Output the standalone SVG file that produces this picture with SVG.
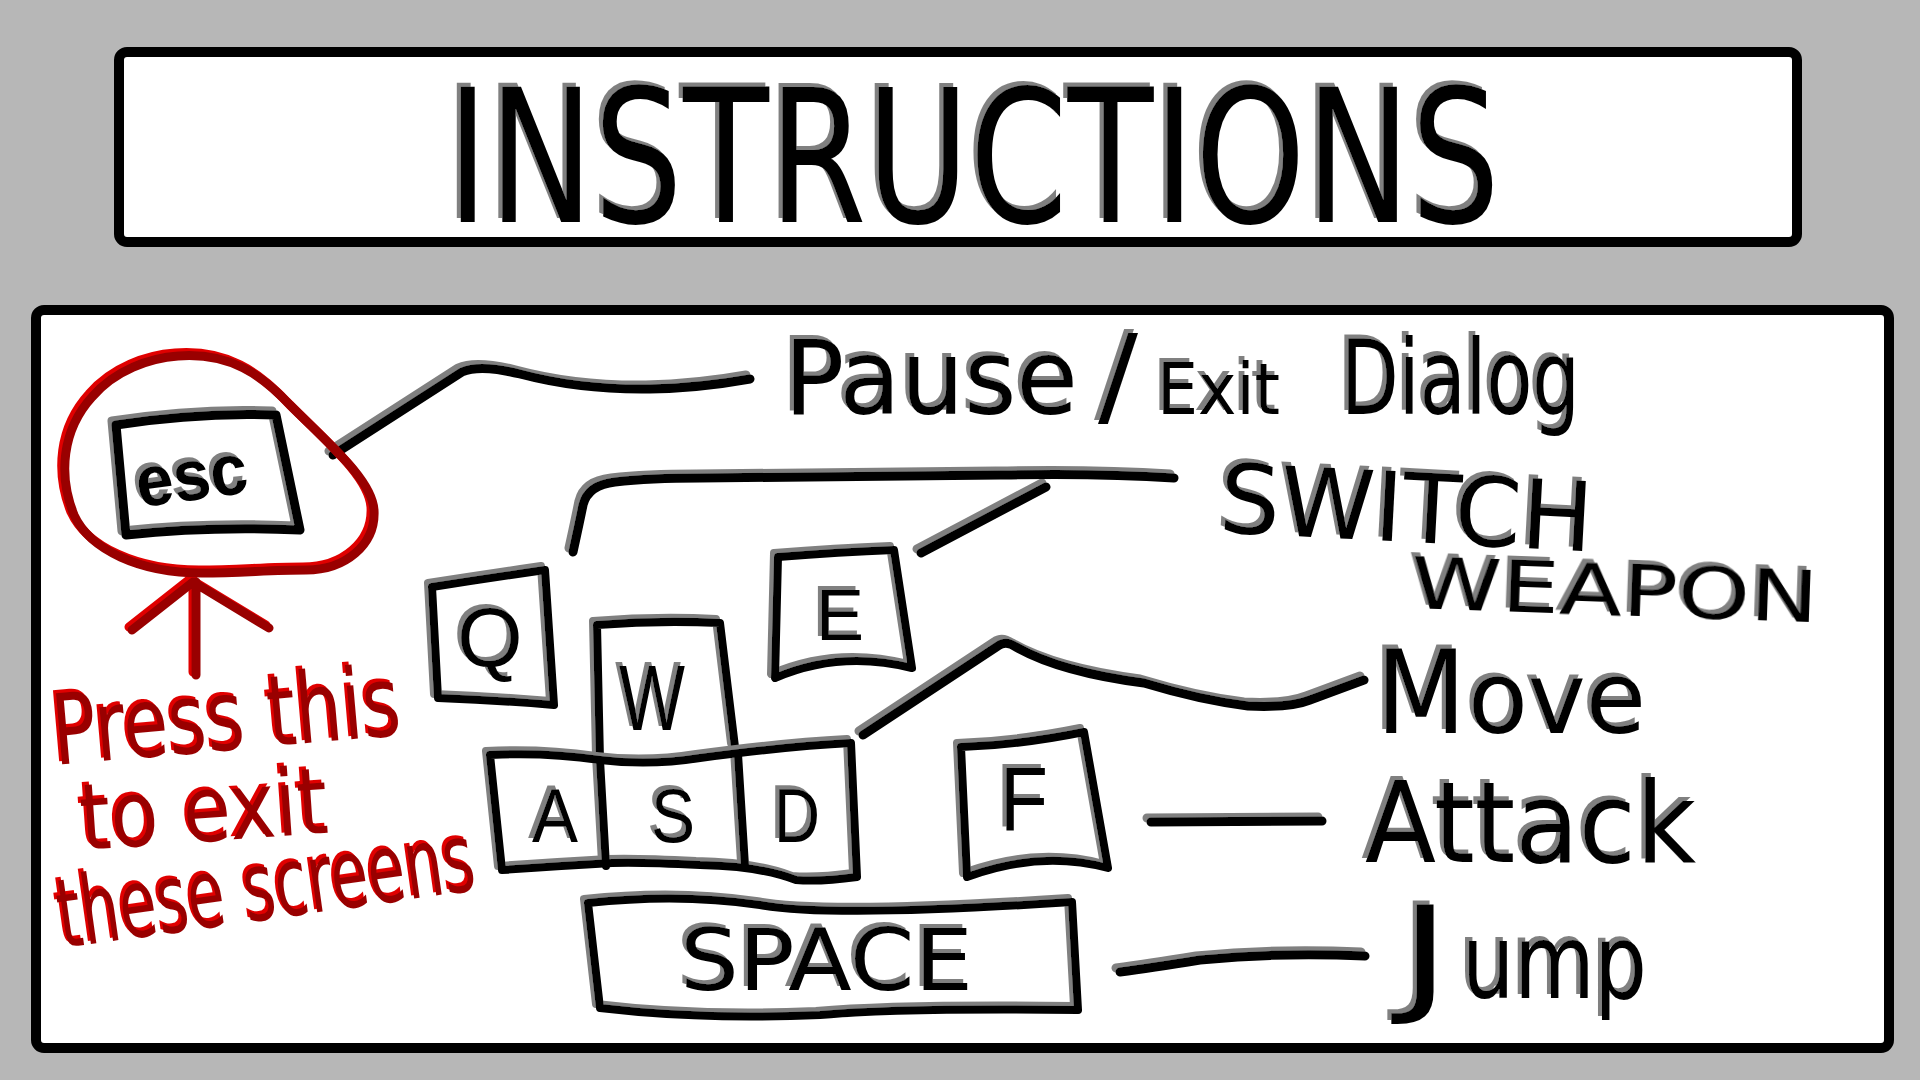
<svg xmlns="http://www.w3.org/2000/svg" width="1920" height="1080" viewBox="0 0 1920 1080">
<style>
.frame{fill:#fff;stroke:#000;stroke-width:10}
.ink{fill:none;stroke:#000;stroke-width:9;stroke-linecap:round;stroke-linejoin:round}
.key{fill:none;stroke:#000;stroke-width:8;stroke-linecap:round;stroke-linejoin:round}
.red{fill:none;stroke:#990000;stroke-width:9;stroke-linecap:round;stroke-linejoin:round}
.t{font-family:"Liberation Sans Narrow","DejaVu Sans Condensed","Liberation Sans",sans-serif;fill:#000}
.rt{font-family:"Liberation Sans Narrow","DejaVu Sans Condensed","Liberation Sans",sans-serif;fill:#990000}
.kl{font-family:"Liberation Sans","DejaVu Sans",sans-serif;fill:#000;text-anchor:middle}
</style>
<defs>
<filter id="sh" filterUnits="userSpaceOnUse" x="0" y="0" width="1920" height="1080">
<feFlood flood-color="#808080"/><feComposite in2="SourceAlpha" operator="in"/><feOffset dx="-4" dy="-4" result="s"/>
<feMerge><feMergeNode in="s"/><feMergeNode in="SourceGraphic"/></feMerge>
</filter>
<filter id="shr" filterUnits="userSpaceOnUse" x="0" y="0" width="1920" height="1080">
<feFlood flood-color="#e00000"/><feComposite in2="SourceAlpha" operator="in"/><feOffset dx="-3" dy="-3" result="s"/>
<feMerge><feMergeNode in="s"/><feMergeNode in="SourceGraphic"/></feMerge>
</filter>
</defs>
<rect width="1920" height="1080" fill="#b7b7b7"/>
<g id="title">
<rect class="frame" x="119" y="52" width="1678" height="190" rx="8"/>
<text class="t" x="447" y="222" font-size="186" textLength="1053" lengthAdjust="spacingAndGlyphs" filter="url(#sh)">INSTRUCTIONS</text>
</g>
<g id="panel">
<rect class="frame" x="36" y="310" width="1853" height="738" rx="8"/>
</g>
<g id="connectors" filter="url(#sh)">
<path class="ink" d="M333,455 L462,372 Q480,364 520,374 Q580,390 650,389 Q700,388 750,379"/>
<path class="ink" d="M573,552 Q580,520 583,505 Q588,485 615,482 Q650,478 700,478 L1000,475 Q1100,473 1174,478"/>
<path class="ink" d="M921,553 L1046,487"/>
<path class="ink" d="M863,735 L998,646 Q1006,640 1016,647 Q1060,672 1144,683 Q1200,700 1248,706 Q1290,708 1310,700 L1364,680"/>
<path class="ink" d="M1151,822 L1322,821"/>
<path class="ink" d="M1120,972 Q1150,968 1200,960 Q1280,952 1365,956"/>
</g>
<g id="esc-note" filter="url(#shr)">
<path class="red" d="M178,356 C230,352 262,375 290,405 C330,445 372,480 374,510 C376,545 345,570 306,570 C270,570 240,573 202,573 C140,573 90,550 74,515 C58,475 62,430 92,397 C115,370 150,358 178,356 Z"/>
<path class="red" d="M196,675 L196,582 M132,630 L193,582 L269,628"/>
<text class="rt" x="55" y="765" font-size="98" textLength="349" lengthAdjust="spacingAndGlyphs" transform="rotate(-5 55 765)">Press this</text>
<text class="rt" x="82" y="850" font-size="92" textLength="248" lengthAdjust="spacingAndGlyphs" transform="rotate(-4 82 850)">to exit</text>
<text class="rt" x="62" y="948" font-size="96" textLength="420" lengthAdjust="spacingAndGlyphs" transform="rotate(-8 62 948)">these screens</text>
</g>
<g id="key-esc" filter="url(#sh)">
<path class="ink" d="M116,425 Q200,412 276,415 L300,530 Q210,526 126,535 Z"/>
<text class="kl" x="192" y="500" font-size="72" font-weight="bold" textLength="112" lengthAdjust="spacingAndGlyphs" transform="rotate(-8 192 480)">esc</text>
</g>
<g id="label-pause" filter="url(#sh)">
<text class="t" y="414" font-size="104"><tspan x="784" textLength="294" lengthAdjust="spacingAndGlyphs">Pause</tspan><tspan x="1098" font-size="110" textLength="40" lengthAdjust="spacingAndGlyphs">/</tspan><tspan x="1157" font-size="72" textLength="123" lengthAdjust="spacingAndGlyphs">Exit</tspan><tspan x="1341" textLength="239" lengthAdjust="spacingAndGlyphs">Dialog</tspan></text>
</g>
<g id="label-switch" filter="url(#sh)">
<text class="t" x="1218" y="532" font-size="96" textLength="374" lengthAdjust="spacingAndGlyphs" transform="rotate(3 1218 532)">SWITCH</text>
<text class="t" x="1410" y="608" font-size="72" textLength="408" lengthAdjust="spacingAndGlyphs" transform="rotate(2 1410 608)">WEAPON</text>
</g>
<g id="key-q" filter="url(#sh)">
<path class="key" d="M432,587 Q490,578 545,570 L554,705 Q495,700 438,698 Z"/>
<text class="kl" x="490" y="666" font-size="84">Q</text>
</g>
<g id="key-e" filter="url(#sh)">
<path class="key" d="M778,557 Q840,552 894,550 L912,668 Q840,650 775,678 Z"/>
<text class="kl" x="840" y="640" font-size="72">E</text>
</g>
<g id="key-w" filter="url(#sh)">
<path class="key" d="M600,760 L597,625 Q660,620 720,623 L735,747"/>
<text class="kl" x="652" y="730" font-size="92" textLength="66" lengthAdjust="spacingAndGlyphs">W</text>
</g>
<g id="keys-asd" filter="url(#sh)">
<path class="key" d="M490,755 Q545,752 600,760 Q650,766 700,758 Q790,746 851,743 L857,877 Q820,882 796,880 Q760,866 700,865 Q640,862 612,863 Q560,866 502,870 Z"/>
<path class="key" d="M600,760 L606,866 M738,754 L745,866"/>
<text class="kl" x="555" y="842" font-size="76" textLength="46" lengthAdjust="spacingAndGlyphs">A</text>
<text class="kl" x="673" y="842" font-size="76" textLength="44" lengthAdjust="spacingAndGlyphs">S</text>
<text class="kl" x="797" y="842" font-size="76" textLength="46" lengthAdjust="spacingAndGlyphs">D</text>
</g>
<g id="key-f" filter="url(#sh)">
<path class="key" d="M961,747 Q1020,745 1084,732 L1108,868 Q1040,850 967,877 Z"/>
<text class="kl" x="1024" y="830" font-size="90" textLength="48" lengthAdjust="spacingAndGlyphs">F</text>
</g>
<g id="key-space" filter="url(#sh)">
<path class="key" d="M588,903 Q680,893 760,905 Q830,918 1072,902 L1078,1010 Q900,1008 820,1015 Q700,1020 600,1008 Z"/>
<text class="t" x="680" y="990" font-size="86" textLength="293" lengthAdjust="spacingAndGlyphs">SPACE</text>
</g>
<g id="label-move" filter="url(#sh)">
<text class="t" y="733"><tspan x="1376" font-size="116" textLength="90" lengthAdjust="spacingAndGlyphs">M</tspan><tspan x="1468" font-size="100" textLength="178" lengthAdjust="spacingAndGlyphs">ove</tspan></text>
</g>
<g id="label-attack" filter="url(#sh)">
<text class="t" x="1365" y="862" font-size="112" textLength="331" lengthAdjust="spacingAndGlyphs">Attack</text>
</g>
<g id="label-jump" filter="url(#sh)">
<text class="t" y="998"><tspan x="1400" font-size="128" textLength="50" lengthAdjust="spacingAndGlyphs">J</tspan><tspan x="1462" font-size="104" textLength="185" lengthAdjust="spacingAndGlyphs">ump</tspan></text>
</g>
</svg>
